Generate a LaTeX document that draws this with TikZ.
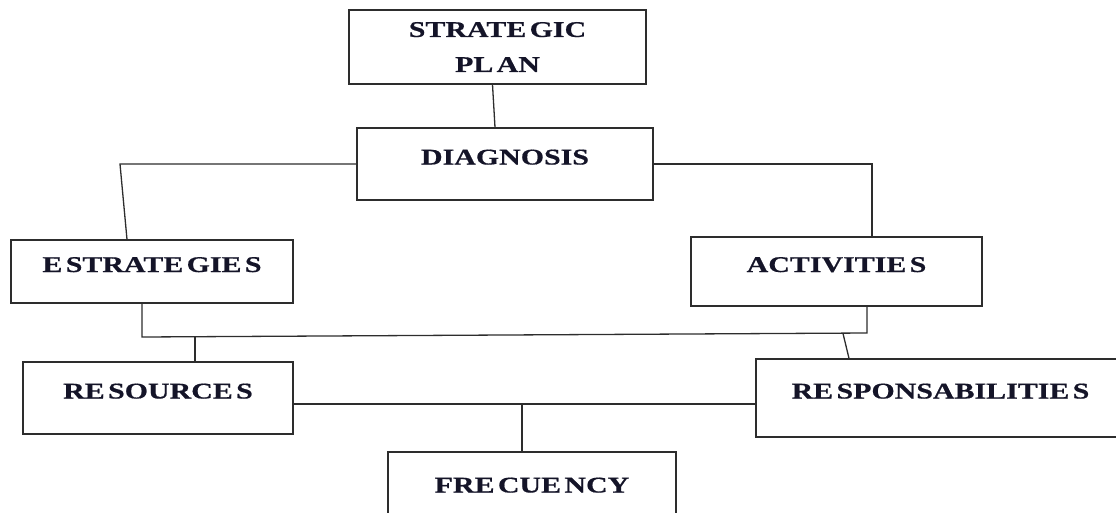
\documentclass[tikz,border=0pt]{standalone}
\usepackage{fontspec}
\usepackage{tikz}
\usetikzlibrary{positioning, calc}
\newfontfamily\boxfont[FakeStretch=1.33, WordSpace=0.45, FakeBold=0.6]{Liberation Serif}
\definecolor{boxline}{RGB}{45, 45, 45}
\definecolor{boxtext}{RGB}{20, 20, 40}

\begin{document}
\begin{tikzpicture}[x=1pt, y=-1pt,
    boxnode/.style={draw=boxline, line width=1.3pt, rectangle, inner sep=0pt,
        text=boxtext, font=\boxfont\bfseries\fontsize{22.5}{35}\selectfont},
    onerow/.style={text height=16pt, text depth=15pt},
    link/.style={draw=boxline, line width=1.3pt}]
\useasboundingbox (0,0) rectangle (1116,512);
\clip (0,0) rectangle (1116,512);
% top of the chart
\node[boxnode, align=center, minimum width=297pt, minimum height=74pt] (plan) at (497.5,47) {STRATE GIC\\PL AN};
\node[boxnode, onerow, minimum width=296pt, minimum height=72pt] (diag) at (505,164) {DIAGNOSIS};
% second row
\node[boxnode, onerow, minimum width=282pt, minimum height=63pt] (estr) at (152,271.5) {E STRATE GIE S};
\node[boxnode, onerow, minimum width=291pt, minimum height=69pt] (act) at (836.5,271.5) {ACTIVITIE S};
% third row
\node[boxnode, onerow, minimum width=270pt, minimum height=72pt] (res) at (158,398) {RE SOURCE S};
\node[boxnode, onerow, minimum width=369pt, minimum height=78pt] (resp) at (940.5,398) {RE SPONSABILITIE S};
% bottom box (cut by the page)
\node[boxnode, onerow, minimum width=288pt, minimum height=80pt] (frec) at (532,492) {FRE CUE NCY};
% joints
\coordinate (dl) at (120,164);
\coordinate (jl) at (142,337);
\coordinate (jr) at (867,333);
\coordinate (jres) at (195,337);
\coordinate (jresp) at (843,333.5);
\coordinate (jb) at (522,404);
% connectors
\draw[link] ([xshift=-5pt]plan.south) -- ([xshift=-10pt]diag.north);
\draw[link] (diag.west) -- (dl) -- ([xshift=-25pt]estr.north);
\draw[link] (diag.east) -| ([xshift=35.5pt]act.north);
\draw[link] ([xshift=-10pt]estr.south) -- (jl) -- (jr) -- ([xshift=30.5pt]act.south);
\draw[link] (jres) -- (jres |- res.north);
\draw[link] (jresp) -- ([xshift=-91.5pt]resp.north);
\draw[link] ([yshift=-6pt]res.east) -- (jb) -- (jb -| resp.west);
\draw[link] (jb) -- (jb |- frec.north);
\end{tikzpicture}
\end{document}
